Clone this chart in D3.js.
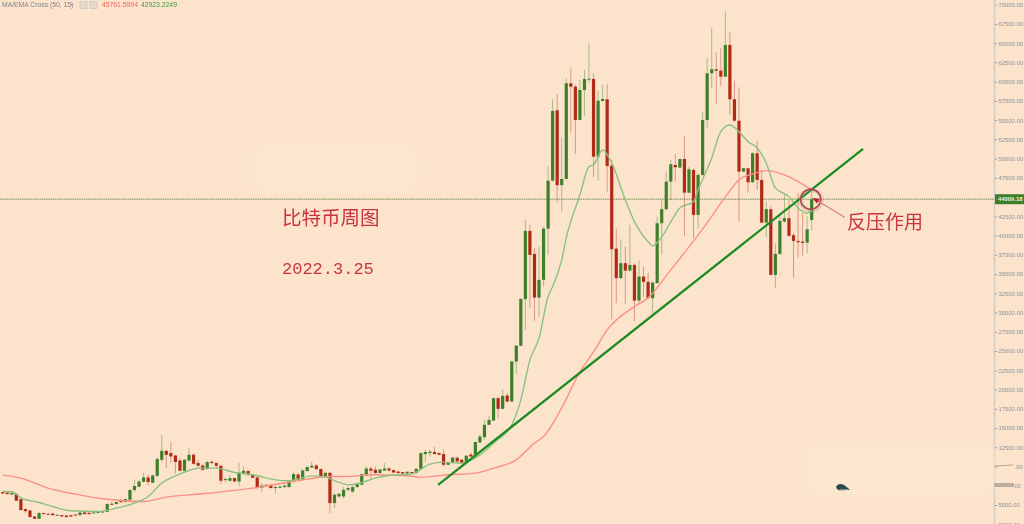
<!DOCTYPE html>
<html>
<head>
<meta charset="utf-8">
<script src="https://cdn.jsdelivr.net/npm/d3@7"></script>
<style>
  html, body { margin: 0; padding: 0; background: #fce4cc; overflow: hidden; }
  svg { display: block; }
</style>
</head>
<body>
<div id="chart"></div>
<script>
// weekly candles (index 0 = oldest)
const opens = [6680,6620,6370,6460,5770,4470,4290,3510,3210,3950,3860,3890,3600,3680,3630,3680,3760,3680,4030,3990,3950,3985,4030,4120,5160,5120,5550,5380,5680,6940,7370,8020,8580,7890,8800,10870,12040,11750,11430,10780,9450,10780,11530,10450,10130,9670,10620,10450,10100,8280,8150,8500,8060,9150,9410,8930,8580,7240,7630,7630,7200,7240,7330,7330,8150,8960,8310,9410,9870,10130,9670,8700,9190,5250,6110,6110,6980,6750,7330,7630,8930,9740,9580,9150,9480,9740,9540,9350,9280,9090,9280,9150,9670,11620,11750,11880,11750,11620,10230,10450,11140,10880,10450,11560,11530,13120,13820,15420,15970,18880,17490,19220,18440,23640,25680,31740,40610,37620,31950,34250,40910,47140,56290,46550,47360,59790,59350,55030,58920,60310,60350,50260,57490,57710,49090,38310,34470,36420,35450,36200,31560,34680,33990,31870,33820,41610,43430,47010,49180,48830,49960,45580,48530,42690,47880,55030,61090,61610,61430,60650,64770,57710,54930,48310,48750,46930,50700,47230,41690,43430,34900,37620,41820,42260,40050,39310,39220,39090,42040];
const closes = [6500,6410,6550,5550,4340,4210,3430,3210,3950,3820,3760,3680,3730,3510,3430,3510,3680,4030,3820,3820,4030,4080,4160,5120,5070,5380,5380,5770,6940,7460,8060,8580,7980,8840,10970,12040,11520,11310,10580,9450,10880,11530,10360,10100,9580,10580,10450,10100,8150,8370,8500,8060,9220,9450,8930,8540,7270,7530,7500,7200,7330,7400,7500,8150,9020,8280,9480,9930,10100,9670,8700,9190,5250,6330,6460,6980,7200,7330,7760,9020,9740,9450,9150,9610,9740,9480,9220,9150,9090,9320,9150,9710,11750,11880,11920,11620,11530,10230,10450,11170,10650,10450,11400,11310,13180,13900,15420,16070,18880,17490,19180,18440,23640,25710,31780,40610,37490,31950,34250,40910,47140,56190,46550,47360,59790,59350,55030,58920,60350,60390,50260,57530,57750,49050,38230,34470,36420,35450,36200,31560,34680,33990,31870,33900,41610,43430,47010,49270,48880,49960,45580,48620,42690,47880,55030,61090,61610,61430,60650,64770,57710,54930,48310,48750,46930,50700,47230,41690,43430,34900,37620,41910,42260,39960,39310,39140,39050,40830,44730];
const highs = [6750,6680,6600,6500,5800,4550,4320,3530,4160,3990,3900,3950,3760,3720,3660,3720,3800,4060,4060,4020,4060,4110,4190,5250,5460,5420,5810,5810,7070,8270,8270,9150,8930,8930,11230,14090,12080,13250,11530,11100,10970,12470,11750,10880,10360,10750,10700,10580,10230,8580,8890,8540,10450,10000,9580,8990,8700,7850,7670,7670,7500,7440,7850,8190,9220,9150,9670,10100,10650,10320,9740,9230,9220,6550,6550,7370,7400,7530,7890,9100,10000,10000,10000,9660,10450,9930,9580,9390,9320,9360,9320,9750,11800,12170,12170,12530,11790,12170,10490,11210,11310,10920,11440,11820,13230,14130,16070,16590,18950,19090,20050,19530,23700,25760,31830,42040,41390,38400,38570,41170,49050,57710,58400,52730,60480,61870,59570,60220,61520,64990,61090,58830,59570,59700,49830,40960,39530,38570,41390,36420,36750,35970,35160,34030,42470,44640,48310,49830,50610,49000,52990,48960,48750,48140,56100,63040,67010,63820,64340,69090,66420,60130,59270,48800,48830,50870,52340,48530,44420,43770,39010,42470,45290,44640,40310,45510,42950,42470,45930];
const lows = [6460,6380,6330,5500,4300,3950,3400,3180,3170,3790,3730,3630,3570,3480,3400,3480,3650,3650,3790,3790,3930,3960,4000,4090,4990,5090,5250,5350,5650,6750,7330,7930,7540,7850,8630,10580,9800,10450,9060,9350,9220,10620,10230,10000,9450,9580,10360,9800,7760,7930,7980,8020,7400,9060,8800,8490,7070,6680,7460,7160,6460,7200,7200,7290,8060,8180,8280,9370,9840,9480,8570,8660,3950,4600,5900,5810,6750,6550,7240,7580,8700,8410,8930,9110,9450,9350,9190,9110,9060,9060,9110,9110,9630,10650,11310,11530,11500,10000,10190,10410,10360,10410,10410,11230,11490,13080,13470,15350,15900,16280,17450,18360,18400,22040,25640,27750,30610,28920,29480,33380,37490,47010,44290,43120,47330,53380,50610,54940,55550,59830,47580,47140,57400,45640,29140,31220,34380,31130,35330,28920,31220,32080,31870,29920,33770,37490,43340,44640,47010,48790,39960,45510,39660,40870,47790,54030,59140,57070,59440,60570,55680,54800,41820,48260,45580,46840,45930,41650,39790,34810,33170,37490,41690,39870,34470,37140,37270,37710,40650];

// moving averages, sampled at some candles only
const fastIdx = [0,2,4,8,11,15,21,25,29,32,35,38,41,43,47,51,55,60,63,68,71,74,76,78,82,85,90,94,97,101,105,108,112,114,116,118,120,121,123,124,127,129,130,132,134,137,139,142,143,145,147,149,152,153,156,158,160,162,164,166,168,170,173,175,177,178];
const fastVal = [6750,6720,5935,5325,4805,4245,4155,4595,5245,6105,7845,8790,9480,9790,9790,9220,8925,8270,8145,8790,8620,7940,7625,7755,8495,8830,9015,10315,10575,10445,11520,13040,15415,18660,23860,26675,32080,33375,36845,39700,45285,48960,49180,51130,49440,44635,41820,39220,38660,39830,41780,43600,44415,45935,50090,53510,54375,53510,52210,51390,49440,46195,45065,43600,42910,43250];
const slowIdx = [0,4,10,16,22,31,36,44,55,64,72,75,82,88,92,98,104,108,113,117,119,123,127,130,133,139,142,147,151,155,159,162,165,168,172,175,178];
const slowVal = [8885,8495,7195,6415,5805,5455,6025,6455,7195,8050,8700,8700,8925,8830,8620,8925,9145,9790,10870,13040,13895,17625,22300,24895,27755,30780,31910,35545,38530,41650,45025,47235,48015,48440,47885,47010,45935];

// hand drawn trend line (candle index, price)
const trendIdx = [95.8, 189.3];
const trendVal = [7620, 51260];

const yTicks = d3.range(70000, 2000, -2500);
const maskedLabels = { 10000: '.00', 7500: '00' };   // half hidden by the watermark patch
const lastPriceLabel = '44009.18';
const maName = 'MA/EMA Cross (50, 15)';
const maSlowLabel = '45761.5994';
const maFastLabel = '42923.2249';
const titleLabel = '比特币周图';
const dateLabel = '2022.3.25';
const noteLabel = '反压作用';

const width = 1024, height = 524;
const upColor = '#3c7f2b', downColor = '#b02a16';
const grey = '#8d8f99';

const svg = d3.select('#chart').append('svg')
  .attr('width', width)
  .attr('height', height);

const defs = svg.append('defs');
defs.append('filter').attr('id', 'soft').append('feGaussianBlur').attr('stdDeviation', 0.35);
defs.append('filter').attr('id', 'patch').append('feGaussianBlur').attr('stdDeviation', 6);
defs.append('filter').attr('id', 'shadow').append('feGaussianBlur').attr('stdDeviation', 1.2);

svg.append('rect').attr('width', width).attr('height', height).attr('fill', '#fce4cc');

const x = d3.scaleLinear().domain([0, 178]).range([2.7, 811.7]);
const y = d3.scaleLinear().domain([70000, 5000]).range([4.7, 505]);

// watermark patches
const patches = [[255, 148, 160, 42], [805, 449, 190, 44]];
svg.append('g').selectAll('rect')
  .data(patches)
  .join('rect')
  .attr('x', d => d[0]).attr('y', d => d[1])
  .attr('width', d => d[2]).attr('height', d => d[3])
  .attr('rx', 12)
  .attr('fill', '#fde7d1')
  .attr('filter', 'url(#patch)');

// last price line
const lastClose = closes[closes.length - 1];
svg.append('line')
  .attr('x1', 0).attr('x2', 994)
  .attr('y1', y(lastClose)).attr('y2', y(lastClose))
  .attr('stroke', '#4f7a35')
  .attr('stroke-width', 0.8)
  .attr('stroke-dasharray', '1.5 0.7');

// candles
const candles = svg.append('g').attr('filter', 'url(#soft)');
const rows = d3.range(opens.length);
const isUp = i => closes[i] >= opens[i];

candles.selectAll('line.wick')
  .data(rows)
  .join('line')
  .attr('class', 'wick')
  .attr('x1', x).attr('x2', x)
  .attr('y1', i => y(highs[i]))
  .attr('y2', i => y(lows[i]))
  .attr('stroke', i => isUp(i) ? upColor : downColor)
  .attr('stroke-opacity', 0.42)
  .attr('stroke-width', 1);

candles.selectAll('rect.body')
  .data(rows)
  .join('rect')
  .attr('class', 'body')
  .attr('x', i => x(i) - 1.6)
  .attr('width', 3.2)
  .attr('y', i => y(Math.max(opens[i], closes[i])))
  .attr('height', i => Math.max(1, Math.abs(y(opens[i]) - y(closes[i]))))
  .attr('fill', i => isUp(i) ? upColor : downColor);

// moving averages
const line = d3.line()
  .x(d => x(d[0]))
  .y(d => y(d[1]))
  .curve(d3.curveMonotoneX);

const maLines = svg.append('g').attr('fill', 'none').attr('filter', 'url(#soft)');
maLines.append('path')
  .attr('d', line(d3.zip(slowIdx, slowVal)))
  .attr('stroke', '#fb8f86')
  .attr('stroke-width', 1.4);
maLines.append('path')
  .attr('d', line(d3.zip(fastIdx, fastVal)))
  .attr('stroke', '#8cc27f')
  .attr('stroke-width', 1.4);

// trend line
svg.append('path')
  .attr('d', d3.line().x(d => x(d[0])).y(d => y(d[1]))(d3.zip(trendIdx, trendVal)))
  .attr('fill', 'none')
  .attr('stroke', '#1f8a24')
  .attr('stroke-width', 2.3)
  .attr('filter', 'url(#soft)');

// price axis
const axis = d3.axisRight(y)
  .tickValues(yTicks)
  .tickSize(3)
  .tickPadding(1)
  .tickFormat(d => maskedLabels[d] || d3.format('.2f')(d));

const axisG = svg.append('g')
  .attr('transform', 'translate(994.5,0)')
  .attr('filter', 'url(#soft)')
  .call(axis);
axisG.select('.domain').remove();
axisG.selectAll('.tick line').attr('stroke', '#a9a9ad');
axisG.selectAll('.tick text')
  .attr('fill', grey)
  .style('font', '5.9px "Liberation Sans", sans-serif');
axisG.selectAll('.tick')
  .filter(d => maskedLabels[d])
  .select('text')
  .attr('x', 20);

svg.insert('line', 'g')
  .attr('x1', 994.5).attr('x2', 994.5)
  .attr('y1', 0).attr('y2', height)
  .attr('stroke', '#d3cdc5')
  .attr('stroke-width', 1.6);

// smudges over the two hidden labels
svg.append('path')
  .attr('d', 'M994,466 L1013,465')
  .attr('stroke', '#b8a68f').attr('stroke-width', 1.2).attr('filter', 'url(#soft)');
svg.append('rect')
  .attr('x', 994).attr('y', 483).attr('width', 20).attr('height', 4)
  .attr('fill', '#bcae9e').attr('filter', 'url(#soft)');

// last price tag
const tag = svg.append('g').attr('transform', `translate(995,${y(lastClose)})`);
tag.append('rect')
  .attr('x', 0).attr('y', -5).attr('width', 29).attr('height', 10)
  .attr('fill', '#3c7f2b');
tag.append('text')
  .attr('x', 3).attr('y', 2.2)
  .attr('fill', '#e8f2e2')
  .style('font', 'bold 5.9px "Liberation Sans", sans-serif')
  .text(lastPriceLabel);

// legend strip
const legend = svg.append('g').attr('filter', 'url(#soft)').style('font', '6.8px "Liberation Sans", sans-serif');
legend.append('text').attr('x', 2).attr('y', 7).attr('fill', '#7d8088').text(maName);
legend.append('path').attr('d', 'M70,4 L74,4 L72,6.5 Z').attr('fill', '#b0b0b4');
legend.selectAll('rect')
  .data([80, 90])
  .join('rect')
  .attr('x', d => d).attr('y', 1.5)
  .attr('width', 7).attr('height', 7)
  .attr('fill', '#e6d9ca')
  .attr('stroke', '#c9c4bc')
  .attr('stroke-width', 0.7);
legend.append('text').attr('x', 102).attr('y', 7).attr('fill', '#f0605a').text(maSlowLabel);
legend.append('text').attr('x', 141).attr('y', 7).attr('fill', '#3f9a3a').text(maFastLabel);

// annotations
const notes = svg.append('g').attr('filter', 'url(#soft)').attr('fill', '#c8343c');
notes.append('text')
  .attr('x', 282).attr('y', 225)
  .style('font', '19.5px "Noto Sans CJK SC", sans-serif')
  .text(titleLabel);
notes.append('text')
  .attr('x', 282).attr('y', 273.5)
  .style('font', '17px "Liberation Mono", monospace')
  .text(dateLabel);
notes.append('text')
  .attr('x', 847).attr('y', 229)
  .style('font', '19px "Noto Sans CJK SC", sans-serif')
  .text(noteLabel);

// circle + arrow on the last candle
const cx = x(178) - 1, cy = y(lastClose);
svg.append('circle')
  .attr('cx', cx + 0.5).attr('cy', cy + 1).attr('r', 10.5)
  .attr('fill', 'none').attr('stroke', '#9a8f88').attr('stroke-width', 2)
  .attr('stroke-opacity', 0.6)
  .attr('filter', 'url(#shadow)');
svg.append('circle')
  .attr('cx', cx).attr('cy', cy).attr('r', 10)
  .attr('fill', 'none').attr('stroke', '#b8404a').attr('stroke-width', 1.5);
svg.append('line')
  .attr('x1', cx + 5).attr('y1', cy + 0.5)
  .attr('x2', cx + 34).attr('y2', cy + 18)
  .attr('stroke', '#d9807e').attr('stroke-width', 1.3);
svg.append('path')
  .attr('transform', `translate(${cx + 1.5},${cy - 1.5}) rotate(30)`)
  .attr('d', 'M0,0 L7,-2.6 L7,2.6 Z')
  .attr('fill', '#b8202c');

// little leaf mark bottom right
const mark = svg.append('g').attr('transform', 'translate(836,484)').attr('filter', 'url(#soft)');
mark.append('path')
  .attr('d', 'M0,3 C1,0 5,-1 8,1 C10,2 12,4 14,6 L10,6 C6,7 1,7 0,3 Z')
  .attr('fill', '#2e4a4c');
mark.append('path')
  .attr('d', 'M4,6 L12,6 L17,8.5')
  .attr('fill', 'none')
  .attr('stroke', '#e6e6e6')
  .attr('stroke-width', 0.9);
</script>
</body>
</html>
